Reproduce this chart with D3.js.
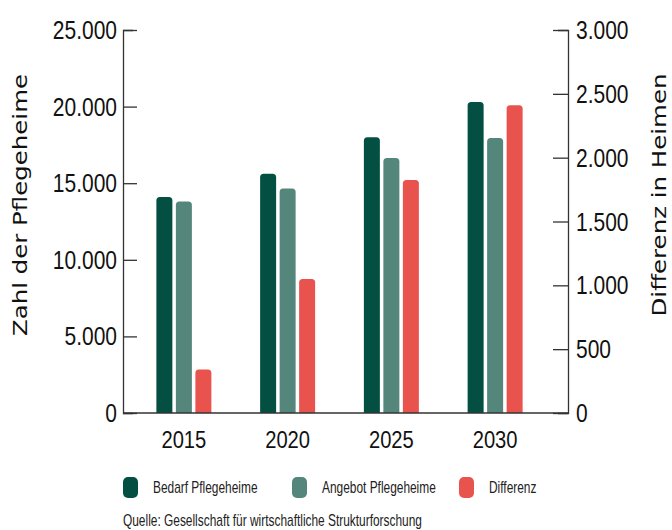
<!DOCTYPE html>
<html>
<head>
<meta charset="utf-8">
<script src="https://cdn.jsdelivr.net/npm/d3@7"></script>
<style>
	body { margin: 0; background: #fff; }
	svg { display: block; }
</style>
</head>
<body>
<svg id="chart" width="672" height="530"></svg>
<script>
"use strict"

//
// data
//
var years     = ["2015", "2020", "2025", "2030"];
var bedarf    = [14100, 15620, 18000, 20300];
var angebot   = [13800, 14650, 16650, 17950];
var differenz = [340, 1050, 1825, 2410];
var seriesNames  = ["Bedarf Pflegeheime", "Angebot Pflegeheime", "Differenz"];
var seriesColors = ["#034f42", "#55867b", "#e8534e"];
var leftTicks  = [0, 5000, 10000, 15000, 20000, 25000];
var rightTicks = [0, 500, 1000, 1500, 2000, 2500, 3000];
var source = "Quelle: Gesellschaft für wirtschaftliche Strukturforschung";

//
// layout
//
var AXIS_L = 123, AXIS_R = 568, TOP = 30, BASE = 413;
var SANS = "'Liberation Sans', Arial, sans-serif";
var AXIS_COLOR = "#333";

var fmt = function(v) { return d3.format(",")(v).replace(/,/g, "."); };

// squeeze text horizontally, the original uses a condensed face
function narrow(sel, f) {
	sel.each(function() {
		var n = this.getComputedTextLength();
		d3.select(this)
			.attr("textLength", n * f)
			.attr("lengthAdjust", "spacingAndGlyphs")
			;
	});
}

var svg = d3.select("#chart");

var x = d3.scaleBand().domain(years).range([132, 547]).padding(0);
var xs = d3.scaleBand().domain(seriesNames).range([-27.5, 27.5]).paddingInner(0.18);
var yL = d3.scaleLinear().domain([0, 25000]).range([BASE, TOP]);
var yR = d3.scaleLinear().domain([0, 3000]).range([BASE, TOP]);

//
// bars, rounded top corners only
//
function barPath(x0, w, yTop, yBottom, r) {
	var p = d3.path();
	p.moveTo(x0, yBottom);
	p.lineTo(x0, yTop + r);
	p.quadraticCurveTo(x0, yTop, x0 + r, yTop);
	p.lineTo(x0 + w - r, yTop);
	p.quadraticCurveTo(x0 + w, yTop, x0 + w, yTop + r);
	p.lineTo(x0 + w, yBottom);
	p.closePath();
	return p.toString();
}

var rows = years.map(function(yr, i) {
	return [
		{ year: yr, s: 0, v: bedarf[i],    scale: yL },
		{ year: yr, s: 1, v: angebot[i],   scale: yL },
		{ year: yr, s: 2, v: differenz[i], scale: yR }
	];
});

svg.append("g").attr("class", "bars")
	.selectAll("path")
	.data(d3.merge(rows))
	.join("path")
		.attr("fill", function(d) { return seriesColors[d.s]; })
		.attr("d", function(d) {
			var cx = x(d.year) + x.bandwidth() / 2;
			var x0 = cx + xs(seriesNames[d.s]);
			return barPath(x0, xs.bandwidth(), d.scale(d.v), BASE, 3.5);
		})
		;

//
// axes
//
var axisL = d3.axisLeft(yL).tickValues(leftTicks).tickSizeInner(-14).tickSizeOuter(-10).tickFormat(fmt);
var axisR = d3.axisRight(yR).tickValues(rightTicks).tickSizeInner(-15).tickSizeOuter(-10).tickFormat(fmt);

var gL = svg.append("g").attr("transform", "translate(" + AXIS_L + ",0)").call(axisL);
var gR = svg.append("g").attr("transform", "translate(" + AXIS_R + ",0)").call(axisR);

[gL, gR].forEach(function(g) {
	g.attr("font-family", null).attr("font-size", null);
	g.selectAll("path, line").attr("stroke", AXIS_COLOR).attr("stroke-width", 1.3);
	g.selectAll("text")
		.attr("font-family", SANS)
		.attr("font-size", 25)
		.attr("fill", "#111")
		.attr("dy", "0.34em")
		;
});
// labels sit outside the axis lines although ticks point inward
gL.selectAll(".tick text").attr("x", -6);
gR.selectAll(".tick text").attr("x", 8);
narrow(gL.selectAll(".tick text"), 0.84);
narrow(gR.selectAll(".tick text"), 0.84);

// baseline
svg.append("line")
	.attr("x1", AXIS_L).attr("x2", AXIS_R)
	.attr("y1", BASE).attr("y2", BASE)
	.attr("stroke", AXIS_COLOR)
	.attr("stroke-width", 1.5)
	;

// year labels
var yearText = svg.append("g").selectAll("text")
	.data(years)
	.join("text")
		.attr("x", function(d) { return x(d) + x.bandwidth() / 2; })
		.attr("y", 448)
		.attr("text-anchor", "middle")
		.attr("font-family", SANS)
		.attr("font-size", 24)
		.attr("fill", "#111")
		.text(function(d) { return d; })
		;
narrow(yearText, 0.84);

//
// axis titles
//
svg.append("text")
	.attr("transform", "translate(27,205) rotate(-90)")
	.attr("text-anchor", "middle")
	.attr("font-family", "'DejaVu Sans', sans-serif")
	.attr("font-size", 19)
	.attr("fill", "#111")
	.attr("textLength", 262)
	.attr("lengthAdjust", "spacingAndGlyphs")
	.text("Zahl der Pflegeheime")
	;
svg.append("text")
	.attr("transform", "translate(666,195) rotate(-90)")
	.attr("text-anchor", "middle")
	.attr("font-family", "'DejaVu Sans', sans-serif")
	.attr("font-size", 19)
	.attr("fill", "#111")
	.attr("textLength", 243)
	.attr("lengthAdjust", "spacingAndGlyphs")
	.text("Differenz in Heimen")
	;

//
// legend
//
var legendX = [123, 292, 459];
var leg = svg.append("g").selectAll("g")
	.data(seriesNames)
	.join("g")
		.attr("transform", function(d, i) { return "translate(" + legendX[i] + ",477)"; })
		;
leg.append("rect")
	.attr("width", 15).attr("height", 21)
	.attr("rx", 5).attr("ry", 5)
	.attr("fill", function(d, i) { return seriesColors[i]; })
	;
var legText = leg.append("text")
	.attr("x", 30).attr("y", 16)
	.attr("font-family", SANS)
	.attr("font-size", 17)
	.attr("fill", "#222")
	.text(function(d) { return d; })
	;
narrow(legText, 0.7);

var srcText = svg.append("text")
	.attr("x", 123).attr("y", 526)
	.attr("font-family", SANS)
	.attr("font-size", 17)
	.attr("fill", "#222")
	.text(source)
	;
narrow(srcText, 0.7);
</script>
</body>
</html>
